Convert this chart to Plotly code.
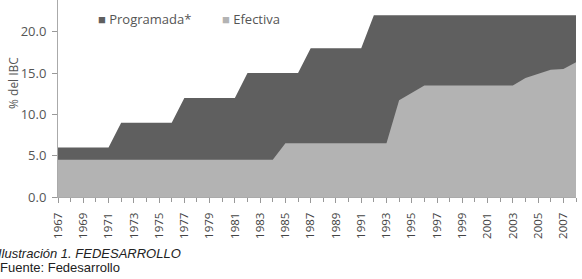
import plotly.graph_objects as go

years = list(range(1967, 2009))
programada = [6.0]*5 + [9.0]*5 + [12.0]*5 + [15.0]*5 + [18.0]*5 + [22.0]*17
efectiva = ([4.5]*18 + [6.5]*9 + [11.7, 12.6] + [13.5]*8 +
            [14.4, 14.9, 15.4, 15.5, 16.3])
series_names = ["Programada*", "Efectiva"]
tick_years = list(range(1967, 2009, 2))
ytick_vals = [0, 5, 10, 15, 20]
ytick_text = ["0.0", "5.0", "10.0", "15.0", "20.0"]

DARK = "#5f5f5f"
LIGHT = "#b3b3b3"
W, H = 582, 279
ML, MR, MT, MB = 58, 6, 0, 82
PW = W - ML - MR
PH = H - MT - MB

def px_x(p):
    return (p - ML) / PW

def px_y(p):
    return (H - MB - p) / PH

fig = go.Figure()
fig.add_trace(go.Scatter(x=years, y=programada, mode="lines", fill="tozeroy",
                         line=dict(color=DARK, width=0), fillcolor=DARK,
                         name=series_names[0], showlegend=False, hoverinfo="skip"))
fig.add_trace(go.Scatter(x=years, y=efectiva, mode="lines", fill="tozeroy",
                         line=dict(color=LIGHT, width=0), fillcolor=LIGHT,
                         name=series_names[1], showlegend=False, hoverinfo="skip"))

legend_font = dict(family="Open Sans", size=13, color="#555555")

fig.update_layout(
    width=W, height=H,
    margin=dict(l=ML, r=MR, t=MT, b=MB),
    paper_bgcolor="white", plot_bgcolor="white",
    font=dict(family="Open Sans", size=12, color="#555555"),
    showlegend=False,
    xaxis=dict(range=[1967, 2008], tickmode="array", tickvals=tick_years,
               ticktext=[str(y) for y in tick_years], tickangle=-90,
               ticks="outside", ticklen=5, tickcolor="#999999",
               ticklabelstandoff=5,
               minor=dict(dtick=1, ticks="outside", ticklen=4, tickcolor="#999999", showgrid=False),
               showline=True, linecolor="#aaaaaa", linewidth=1,
               showgrid=False, zeroline=False,
               tickfont=dict(size=11.5, color="#444444")),
    yaxis=dict(range=[0, 23.85], tickmode="array", tickvals=ytick_vals, ticktext=ytick_text,
               ticks="outside", ticklen=5, tickcolor="#999999",
               ticklabelstandoff=3,
               showline=True, linecolor="#aaaaaa", linewidth=1,
               showgrid=False, zeroline=False,
               tickfont=dict(size=13, color="#555555")),
    annotations=[
        dict(text=f"<span style='color:{DARK}'>■</span> {series_names[0]}",
             xref="paper", yref="paper", x=px_x(96), y=px_y(19),
             xanchor="left", yanchor="middle", showarrow=False, font=legend_font),
        dict(text=f"<span style='color:{LIGHT}'>■</span> {series_names[1]}",
             xref="paper", yref="paper", x=px_x(220), y=px_y(19),
             xanchor="left", yanchor="middle", showarrow=False, font=legend_font),
        dict(text="% del IBC", xref="paper", yref="paper", x=px_x(13), y=px_y(83),
             textangle=-90, showarrow=False, font=dict(size=12, color="#555555"),
             xanchor="center", yanchor="middle"),
        dict(text="<i>Ilustración 1. FEDESARROLLO</i>", xref="paper", yref="paper",
             x=px_x(-4), y=px_y(253), xanchor="left", yanchor="middle", showarrow=False,
             font=dict(family="Liberation Sans", size=13, color="#222222")),
        dict(text="Fuente: Fedesarrollo", xref="paper", yref="paper",
             x=px_x(-2), y=px_y(267), xanchor="left", yanchor="middle", showarrow=False,
             font=dict(family="Liberation Sans", size=13, color="#222222")),
    ],
)

fig.write_html("out.html")
